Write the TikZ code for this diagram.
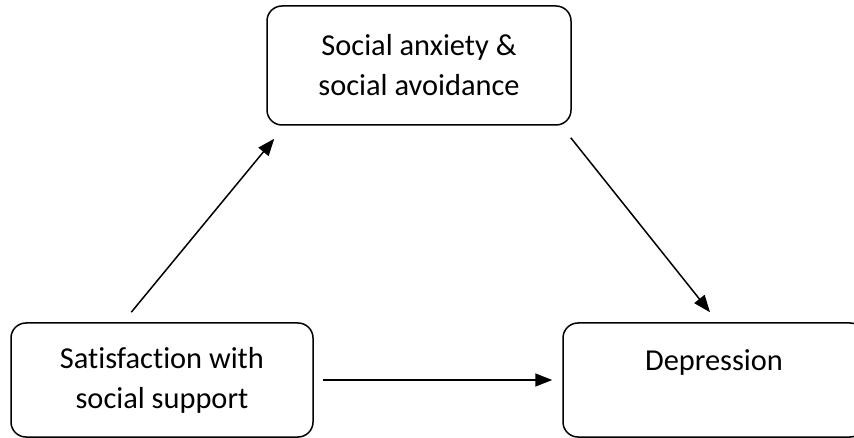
\documentclass[tikz,border=0pt]{standalone}
\usepackage{fontspec}
\setmainfont{Carlito}[Ligatures=CommonOff]
\usetikzlibrary{arrows.meta}

\tikzset{
	box/.style={draw, line width=1.5pt, rounded corners=15pt, inner sep=0pt,
		align=center, font=\fontsize{30.4}{40}\selectfont},
	arr/.style={line width=1.5pt, -{Triangle[length=17pt,width=13pt]}}
}

\begin{document}
\begin{tikzpicture}[x=1pt, y=-1pt]
		\useasboundingbox (0, 0) rectangle (854, 438);
		\node[box, minimum width=304pt, minimum height=119pt] (anx) at (419, 65.5) {Social anxiety \&\\social avoidance};
		\node[box, minimum width=302pt, minimum height=114pt] (sat) at (162, 380) {Satisfaction with\\social support};
		\node[box, minimum width=302pt, minimum height=114pt] (dep) at (714, 380) {Depression\\\mbox{}};
		\draw[arr] ([shift={(121pt, 10pt)}]sat.north west) -- ([shift={(8pt, -13pt)}]anx.south west);
		\draw[arr] ([shift={(-1pt, -12pt)}]anx.south east) -- ([shift={(-4pt, 10pt)}]dep.north);
		\draw[arr] ([xshift=9pt]sat.east) -- ([xshift=-10pt]dep.west);
	\end{tikzpicture}
\end{document}
